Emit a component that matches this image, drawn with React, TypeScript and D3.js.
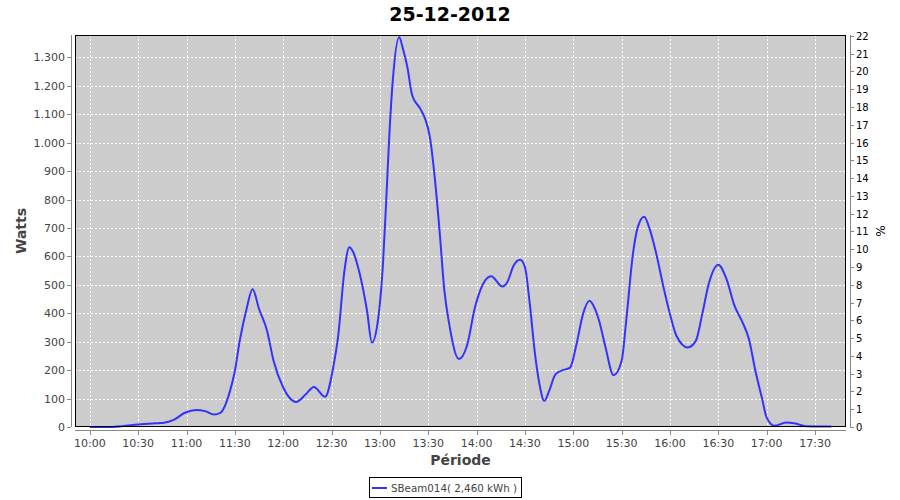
import React from "react";
import * as d3 from "d3";

const title = "25-12-2012";
const seriesName = "SBeam014( 2,460 kWh )";
const times = ["10:00","10:10","10:20","10:30","10:40","10:46","10:52","10:59","11:06","11:12","11:17","11:21","11:27","11:30","11:33","11:37","11:41","11:45","11:50","11:54","12:00","12:06","12:08","12:14","12:19","12:26","12:31","12:34","12:38","12:41","12:43","12:47","12:52","12:55","12:59","13:02","13:04","13:06","13:08","13:12","13:14","13:17","13:20","13:25","13:28","13:31","13:34","13:37","13:40","13:43","13:49","13:54","13:59","14:04","14:09","14:16","14:19","14:23","14:27","14:30","14:33","14:36","14:39","14:42","14:45","14:49","14:54","14:58","15:02","15:06","15:10","15:13","15:16","15:20","15:25","15:30","15:33","15:37","15:40","15:44","15:47","15:51","15:56","16:00","16:04","16:11","16:16","16:20","16:24","16:30","16:35","16:40","16:45","16:49","16:53","16:57","17:00","17:05","17:12","17:18","17:24","17:40"];
const watts = [0,0,3,9,13,15,25,50,60,55,44,50,127,197,303,409,485,415,338,233,139,92,88,115,141,106,209,315,550,632,620,550,409,297,385,585,808,1044,1220,1372,1337,1267,1167,1120,1085,1020,879,691,480,362,239,286,421,503,530,494,509,568,588,562,433,268,151,92,127,186,201,209,292,397,444,421,374,280,182,233,385,609,703,740,703,621,491,397,321,280,303,397,503,571,521,427,368,309,197,103,33,4,16,12,3,2];
const wattTicks = [0,100,200,300,400,500,600,700,800,900,1000,1100,1200,1300];
const pctTicks = d3.range(0, 23);
const timeTicks = ["10:00","10:30","11:00","11:30","12:00","12:30","13:00","13:30","14:00","14:30","15:00","15:30","16:00","16:30","17:00","17:30"];

const parse = d3.timeParse("%H:%M");
const fmtW = (v: number) => d3.format(",")(v).replace(/,/g, ".");

export default function App() {
  const L = 75, R = 846, T = 35, B = 427;
  const t0 = parse("10:00")!.getTime();
  const t1 = parse("17:40")!.getTime();
  const span = t1 - t0;
  const x = d3.scaleTime()
    .domain([new Date(t0 - span * 0.02), new Date(t1 + span * 0.02)])
    .range([L, R]);
  const y = d3.scaleLinear().domain([0, 1379]).range([B, T]);
  const yr = d3.scaleLinear().domain([0, 22.05]).range([B, T]);
  const pts = times.map((t, i) => [x(parse(t)!), y(watts[i])] as [number, number]);
  const line = d3.line().curve(d3.curveMonotoneX)(pts) || "";
  const font = "'DejaVu Sans', Verdana, sans-serif";
  const axisColor = "#888";
  const txt = "#444";
  return (
    <svg width={900} height={500} style={{ position: "absolute", left: 0, top: 0, background: "#fff" }} fontFamily={font}>
      <rect x={0} y={0} width={900} height={500} fill="#fff" />
      <text x={450} y={21} textAnchor="middle" fontSize={19} fontWeight="bold" fill="#000">{title}</text>
      <rect x={L} y={T} width={R - L} height={B - T} fill="#cccccc" />
      {wattTicks.map(v => (
        <line key={"g" + v} x1={L} x2={R} y1={Math.round(y(v)) + 0.5} y2={Math.round(y(v)) + 0.5} stroke="#fff" strokeDasharray="2,2" />
      ))}
      {timeTicks.map(t => (
        <line key={"v" + t} x1={Math.round(x(parse(t)!)) + 0.5} x2={Math.round(x(parse(t)!)) + 0.5} y1={T} y2={B} stroke="#fff" strokeDasharray="2,2" />
      ))}
      <path d={line} fill="none" stroke="#3333ff" strokeWidth={2} />
      <rect x={L + 0.5} y={T + 0.5} width={R - L - 1} height={B - T - 1} fill="none" stroke="#000" strokeWidth={1} />
      {/* left axis */}
      <line x1={71.5} x2={71.5} y1={T} y2={B} stroke={axisColor} />
      {wattTicks.map(v => (
        <g key={"l" + v}>
          <line x1={67} x2={71} y1={Math.round(y(v)) + 0.5} y2={Math.round(y(v)) + 0.5} stroke={axisColor} />
          <text x={65} y={y(v) + 4} textAnchor="end" fontSize={11} fill={txt}>{fmtW(v)}</text>
        </g>
      ))}
      <text transform={`translate(26,${(T + B) / 2}) rotate(-90)`} textAnchor="middle" fontSize={14} fontWeight="bold" fill={txt}>Watts</text>
      {/* right axis */}
      <line x1={850.5} x2={850.5} y1={T} y2={B} stroke={axisColor} />
      {pctTicks.map(v => (
        <g key={"r" + v}>
          <line x1={850} x2={854} y1={Math.round(yr(v)) + 0.5} y2={Math.round(yr(v)) + 0.5} stroke={axisColor} />
          <text x={856} y={yr(v) + 4} textAnchor="start" fontSize={10} fill="#000">{v}</text>
        </g>
      ))}
      <text transform={`translate(885,${(T + B) / 2}) rotate(-90)`} textAnchor="middle" fontSize={12} fill="#000">%</text>
      {/* bottom axis */}
      <line x1={L} x2={R} y1={430.5} y2={430.5} stroke={axisColor} />
      {timeTicks.map(t => (
        <g key={"b" + t}>
          <line x1={Math.round(x(parse(t)!)) + 0.5} x2={Math.round(x(parse(t)!)) + 0.5} y1={431} y2={435} stroke={axisColor} />
          <text x={x(parse(t)!)} y={447} textAnchor="middle" fontSize={11} fill={txt}>{t}</text>
        </g>
      ))}
      <text x={(L + R) / 2} y={465} textAnchor="middle" fontSize={14} fontWeight="bold" fill={txt}>Période</text>
      {/* legend */}
      <rect x={369.5} y={477.5} width={152} height={20} fill="#fff" stroke="#000" />
      <line x1={372} x2={387} y1={488} y2={488} stroke="#3333ff" strokeWidth={2} />
      <text x={391} y={492} fontSize={11} fill={txt} textLength={126} lengthAdjust="spacingAndGlyphs">{seriesName}</text>
    </svg>
  );
}
